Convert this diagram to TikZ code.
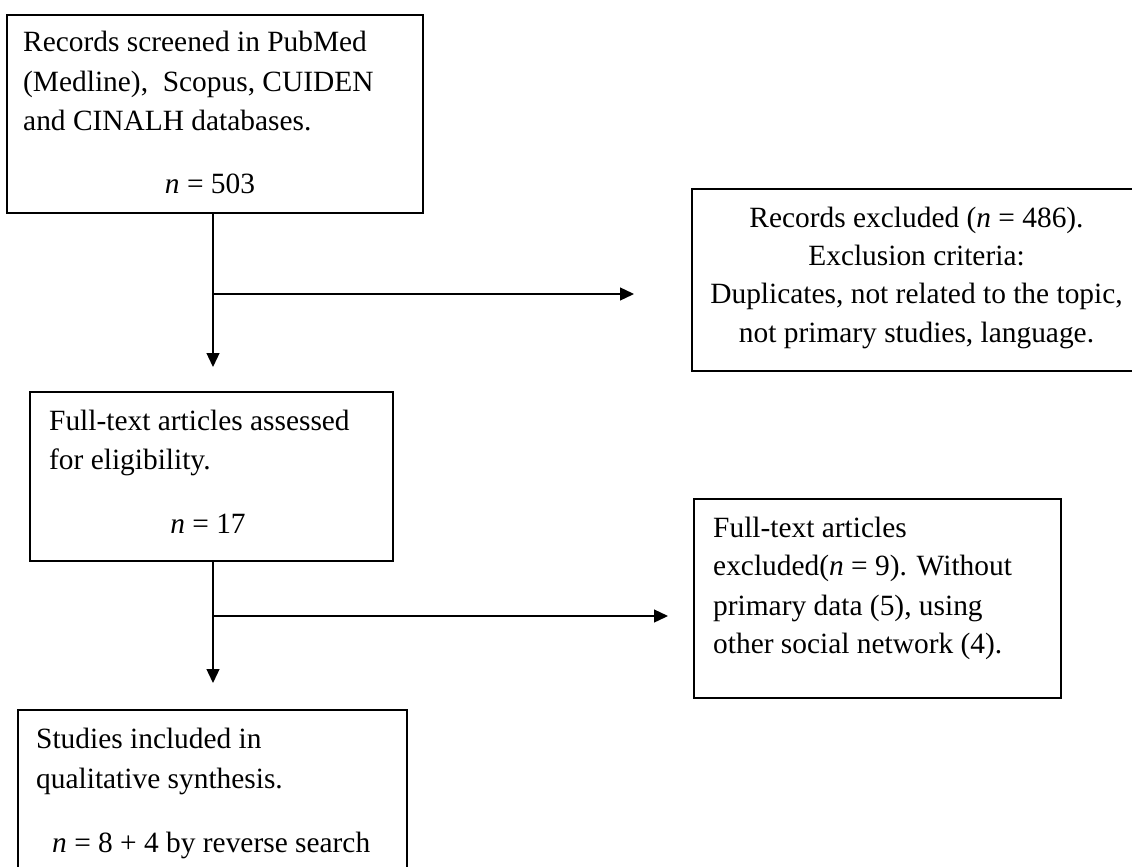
\documentclass[tikz,border=0pt]{standalone}
\usepackage{fontspec}
\setmainfont{Liberation Serif}
\usetikzlibrary{arrows.meta}
\tikzset{
  box/.style={draw=black, line width=1.6pt, inner sep=0pt, fill=none},
  txt/.style={inner sep=0pt, font=\fontsize{29.4}{39}\selectfont},
  lft/.style={txt, anchor=base west},
  ctr/.style={txt, anchor=base},
  conn/.style={draw=black, line width=1.3pt},
  arr/.style={conn, -{Triangle[length=14pt,width=13pt]}},
}
\begin{document}
\begin{tikzpicture}[x=1pt,y=-1pt]
\clip (0,0) rectangle (1132,867);
\fill[white] (0,0) rectangle (1132,867);
% boxes
\node[box, minimum width=416pt, minimum height=198pt] (b1) at (215,114) {};
\node[box, minimum width=449pt, minimum height=182pt] (b3) at (916.5,280) {};
\node[box, minimum width=363pt, minimum height=169pt] (b2) at (211.5,476.5) {};
\node[box, minimum width=367pt, minimum height=199pt] (b5) at (877.5,598.5) {};
\node[box, minimum width=389pt, minimum height=170pt] (b4) at (212.5,795) {};
% texts
\node[lft] (t11) at (23,52) {Records screened in PubMed};
\node[lft] (t12) at (23,92) {(Medline),\ \ Scopus, CUIDEN};
\node[lft] (t13) at (23,130) {and CINALH databases.};
\node[ctr] (t14) at (210,193) {\textit{n} = 503};
\node[ctr] (t31) at (916.5,227) {Records excluded (\textit{n} = 486).};
\node[ctr] (t32) at (916.5,265) {Exclusion criteria:};
\node[ctr] (t33) at (916.5,303) {Duplicates, not related to the topic,};
\node[ctr] (t34) at (916.5,342) {not primary studies, language.};
\node[lft] (t21) at (49,430) {Full-text articles assessed};
\node[lft] (t22) at (49,469) {for eligibility.};
\node[ctr] (t23) at (208,533) {\textit{n} = 17};
\node[lft] (t51) at (713,537) {Full-text articles};
\node[lft] (t52) at (713,575) {excluded(\textit{n} = 9). Without};
\node[lft] (t53) at (713,615) {primary data (5), using};
\node[lft] (t54) at (713,653) {other social network (4).};
\node[lft] (t41) at (36,748) {Studies included in};
\node[lft] (t42) at (36,788) {qualitative synthesis.};
\node[lft] (t43) at (52,852) {\textit{n} = 8 + 4 by reverse search};
% connectors
\coordinate (j1) at (213,294);
\coordinate (a1) at (213,367);
\coordinate (h1) at (634,294);
\coordinate (j2) at (213,616);
\coordinate (a2) at (213,683);
\coordinate (h2) at (668,616);
\draw[arr] (b1.south -| a1) -- (a1);
\draw[arr] (j1) -- (h1);
\draw[arr] (b2.south -| a2) -- (a2);
\draw[arr] (j2) -- (h2);
\end{tikzpicture}
\end{document}
